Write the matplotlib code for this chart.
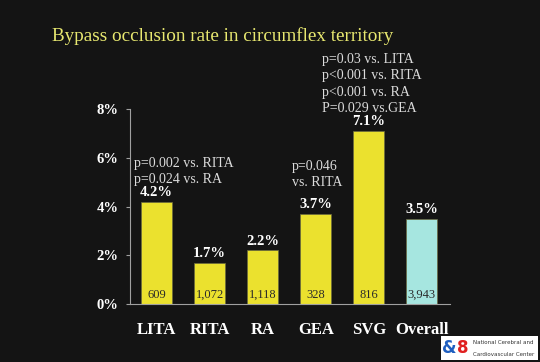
import numpy as np
import matplotlib.pyplot as plt
from matplotlib.patches import Rectangle

# data
cats = ['LITA', 'RITA', 'RA', 'GEA', 'SVG', 'Overall']
rates = [4.2, 1.7, 2.2, 3.7, 7.1, 3.5]
counts = ['609', '1,072', '1,118', '328', '816', '3,943']
pnotes = ['p=0.002 vs. RITA\np=0.024 vs. RA', '', '',
          'p=0.046\nvs. RITA',
          'p=0.03 vs. LITA\np<0.001 vs. RITA\np<0.001 vs. RA\nP=0.029 vs.GEA', '']
yticks = [0, 2, 4, 6, 8]

bg = '#141414'
yellow = '#ebe12e'
cyan = '#a6e6e0'
serif = 'Liberation Serif'

fig = plt.figure(figsize=(5.4, 3.62), dpi=100, facecolor=bg)
ax = fig.add_axes([0.2407, 0.160, 0.5926, 0.539], facecolor=bg)

x = np.arange(len(cats))
colors = [yellow] * 5 + [cyan]
ax.bar(x, rates, width=0.58, color=colors, edgecolor='#6a6a40', linewidth=0.5, zorder=2)

ax.set_xlim(-0.5, 5.53)
ax.set_ylim(0, 8)
ax.set_yticks(yticks)
ax.set_yticklabels([f'{t}%' for t in yticks], fontfamily=serif, fontweight='bold',
                   fontsize=10.5, color='white')
ax.tick_params(axis='y', length=3, color='#a0a0a0', pad=5)
ax.set_xticks(x)
ax.set_xticklabels(cats, fontfamily=serif, fontweight='bold', fontsize=12, color='white')
ax.tick_params(axis='x', length=0, pad=13)
for s in ['top', 'right']:
    ax.spines[s].set_visible(False)
ax.spines['left'].set_color('#a0a0a0')
ax.spines['bottom'].set_color('#a0a0a0')

for i, (r, c) in enumerate(zip(rates, counts)):
    ax.text(i, r + 0.1, f'{r}%', ha='center', va='bottom', fontfamily=serif,
            fontweight='bold', fontsize=10.5, color='white')
    ax.text(i, 0.12, c, ha='center', va='bottom', fontfamily=serif,
            fontsize=9, color='#2a2a2a')

# p-value notes
ax.text(-0.42, 4.84, pnotes[0], ha='left', va='bottom', fontfamily=serif,
        fontsize=10, color='#dcdcdc', linespacing=1.35)
ax.text(2.55, 4.7, pnotes[3], ha='left', va='bottom', fontfamily=serif,
        fontsize=10, color='#dcdcdc', linespacing=1.35)
ax.text(3.12, 7.75, pnotes[4], ha='left', va='bottom', fontfamily=serif,
        fontsize=10, color='#dcdcdc', linespacing=1.35, clip_on=False)

fig.text(0.096, 0.899, 'Bypass occlusion rate in circumflex territory', ha='left',
         va='center', fontfamily=serif, fontsize=13.8, color='#e8e870')

# logo box
fig.patches.append(Rectangle((0.817, 0.006), 0.18, 0.066, transform=fig.transFigure,
                             facecolor='white', edgecolor='none'))
fig.text(0.819, 0.038, '&', ha='left', va='center', fontsize=12, fontweight='bold',
         color='#1f5fc0')
fig.text(0.847, 0.038, '8', ha='left', va='center', fontsize=12, fontweight='bold',
         color='#e02020')
fig.text(0.876, 0.054, 'National Cerebral and', ha='left', va='center',
         fontsize=4, color='#333333')
fig.text(0.876, 0.022, 'Cardiovascular Center', ha='left', va='center',
         fontsize=4, color='#333333')

fig.savefig('out.png', dpi=100, facecolor=bg)
